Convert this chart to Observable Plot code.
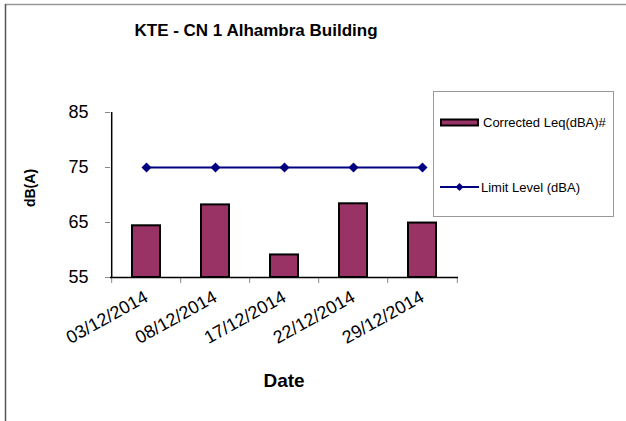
<!DOCTYPE html>
<html>
<head>
<meta charset="utf-8">
<script src="https://cdn.jsdelivr.net/npm/d3@7"></script>
<script src="https://cdn.jsdelivr.net/npm/@observablehq/plot@0.6"></script>
<style>
  html, body { margin: 0; padding: 0; background: #fff; }
  #wrap { position: relative; width: 626px; height: 421px; overflow: hidden; font-family: "Liberation Sans", Arial, sans-serif; }
  #wrap > svg { position: absolute; left: 0; top: 0; }
</style>
</head>
<body>
<div id="wrap"></div>
<script>
const title = "KTE - CN 1 Alhambra Building";
const xLabel = "Date";
const yLabel = "dB(A)";
const dates = ["03/12/2014", "08/12/2014", "17/12/2014", "22/12/2014", "29/12/2014"];
const leq = [64.4, 68.2, 59.1, 68.4, 64.9];
const limit = [75, 75, 75, 75, 75];
const yTicks = [55, 65, 75, 85];
const seriesNames = ["Corrected Leq(dBA)#", "Limit Level (dBA)"];

const rows = dates.map((d, i) => ({date: d, leq: leq[i], limit: limit[i]}));

const W = 626, H = 421;
const mL = 110, mR = 168, mT = 112, mB = 144;
const step = (W - mL - mR) / dates.length;
const base = yTicks[0];
const font = "Liberation Sans, Arial, sans-serif";

const chart = Plot.plot({
  width: W, height: H,
  marginLeft: mL, marginRight: mR, marginTop: mT, marginBottom: mB,
  style: {fontFamily: font, background: "transparent", color: "black"},
  x: {domain: dates, paddingInner: 0.6, paddingOuter: 0.3, axis: null},
  y: {domain: [yTicks[0], yTicks[yTicks.length - 1]], axis: null},
  marks: [
    Plot.axisY({ticks: yTicks, tickSize: 5, tickPadding: 17, fontSize: 18, stroke: "#888", fill: "black", label: null}),
    Plot.axisX({tickSize: 0, tickRotate: -29, fontSize: 18, tickPadding: 18, fill: "black", label: null}),
    Plot.axisX({ticks: dates, tickSize: 6, tickFormat: () => "", dx: -step / 2, stroke: "#888", label: null}),
    Plot.axisX({ticks: [dates[dates.length - 1]], tickSize: 6, tickFormat: () => "", dx: step / 2, stroke: "#888", label: null}),
    Plot.barY(rows, {x: "date", y1: base, y2: "leq", fill: "#993366", stroke: "black", strokeWidth: 2}),
    Plot.ruleY([base], {stroke: "black", strokeWidth: 1.5}),
    Plot.ruleX([dates[0]], {dx: -step / 2, y1: yTicks[0], y2: yTicks[yTicks.length - 1], stroke: "black", strokeWidth: 1.5}),
    Plot.line(rows, {x: "date", y: "limit", stroke: "#000080", strokeWidth: 2}),
    Plot.dot(rows, {x: "date", y: "limit", symbol: "diamond2", r: 4.5, fill: "#000080", stroke: "none"})
  ]
});
document.getElementById("wrap").appendChild(chart);

// overlay: title, axis labels, legend, border
const svg = d3.select("#wrap").append("svg")
  .attr("width", W).attr("height", H)
  .style("font-family", font);

svg.append("line").attr("x1", 5).attr("x2", W).attr("y1", 4.5).attr("y2", 4.5)
  .attr("stroke", "#999").attr("stroke-width", 1.5);
svg.append("line").attr("x1", 5.5).attr("x2", 5.5).attr("y1", 4).attr("y2", H)
  .attr("stroke", "#555").attr("stroke-width", 1.5);

svg.append("text").attr("x", 256).attr("y", 36).attr("text-anchor", "middle")
  .attr("font-size", 17).attr("font-weight", "bold").text(title);
svg.append("text").attr("x", 284).attr("y", 387).attr("text-anchor", "middle")
  .attr("font-size", 19).attr("font-weight", "bold").text(xLabel);
svg.append("text").attr("transform", "translate(35,188) rotate(-90)").attr("text-anchor", "middle")
  .attr("font-size", 14).attr("font-weight", "bold").text(yLabel);

const lg = svg.append("g");
lg.append("rect").attr("x", 433.5).attr("y", 91.5).attr("width", 180).attr("height", 125)
  .attr("fill", "white").attr("stroke", "#999").attr("stroke-width", 1);
lg.append("rect").attr("x", 441).attr("y", 119.5).attr("width", 37).attr("height", 6)
  .attr("fill", "#993366").attr("stroke", "black").attr("stroke-width", 2);
lg.append("text").attr("x", 483).attr("y", 127).attr("font-size", 13).text(seriesNames[0]);
lg.append("line").attr("x1", 440).attr("x2", 479).attr("y1", 187).attr("y2", 187)
  .attr("stroke", "#000080").attr("stroke-width", 2);
lg.append("path").attr("d", d3.symbol(d3.symbolDiamond2, 40)()).attr("transform", "translate(459.5,187)")
  .attr("fill", "#000080");
lg.append("text").attr("x", 481).attr("y", 192).attr("font-size", 13).text(seriesNames[1]);
</script>
</body>
</html>
